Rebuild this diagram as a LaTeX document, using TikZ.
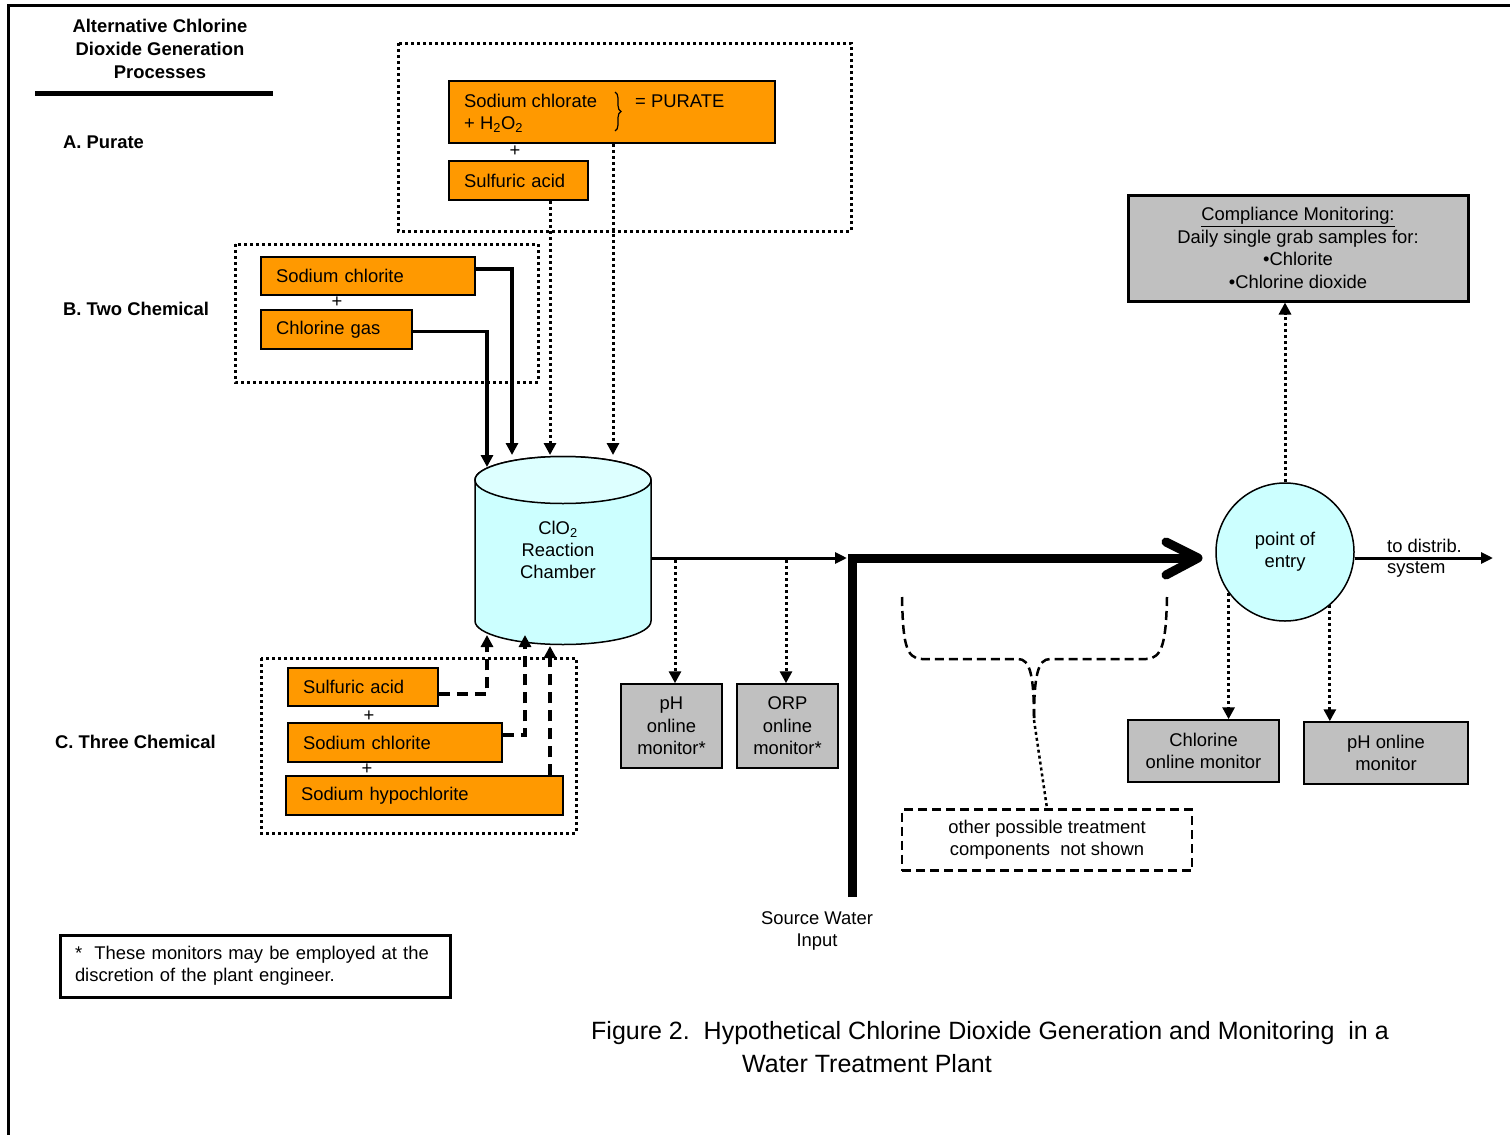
\documentclass[tikz,border=0pt]{standalone}
\usepackage{fontspec}
\setmainfont{Liberation Sans}
\usetikzlibrary{arrows.meta,decorations.pathreplacing,calc}
\definecolor{org}{RGB}{255,153,0}
\definecolor{gry}{RGB}{192,192,192}
\definecolor{cyn}{RGB}{204,255,255}
\definecolor{cyntop}{RGB}{221,255,255}
\begin{document}
\begin{tikzpicture}[x=1pt,y=1pt,
  base/.style={font=\fontsize{18.4}{22.4}\selectfont},
  bold/.style={font=\fontsize{18.4}{23}\selectfont\bfseries},
  obox/.style 2 args={base, draw, line width=1.5pt, fill=org, inner xsep=15pt, inner ysep=0pt,
     align=left, text width=#1, minimum height=#2},
  gbox/.style 2 args={base, draw, line width=1.5pt, fill=gry, inner sep=0pt, align=center,
     minimum width=#1, minimum height=#2},
  dotline/.style={line width=3pt, dash pattern=on 3pt off 3pt},
  tip/.style={-{Triangle[length=12pt,width=12pt]}},
  dotarrow/.style={dotline, tip},
  solarrow/.style={line width=3.5pt, tip},
  dasharrow/.style={line width=3.5pt, dash pattern=on 11pt off 7pt, tip},
  txt/.style={base, inner sep=0pt}
]
\useasboundingbox (0,0) rectangle (1510,-1135);
% frame
\draw[line width=3pt] (8,-1135) -- (8,-5) -- (1510,-5);

% title
\node[bold, align=center] (title) at (160,-49) {Alternative Chlorine\\Dioxide Generation\\Processes};
\draw[line width=5pt] (35,-93) -- (273,-93);
\node[bold, anchor=west, inner sep=0pt] (labA) at (63,-142) {A. Purate};
\node[bold, anchor=west, inner sep=0pt] (labB) at (63,-309) {B. Two Chemical};
\node[bold, anchor=west, inner sep=0pt] (labC) at (55,-742) {C. Three Chemical};

% A. Purate group
\draw[dotline] (398,-43) rectangle (851,-231);
\node[draw, line width=1.5pt, fill=org, minimum width=326pt, minimum height=62pt, inner sep=0pt] (purA) at (612,-112) {};
\node[txt, anchor=west] (sc) at (464,-101) {Sodium chlorate};
\node[txt, anchor=west] (h2o2) at (464,-125) {+ H\textsubscript{2}O\textsubscript{2}};
\draw[decorate, decoration={brace, amplitude=6pt}, line width=1.2pt] (615,-92) -- (615,-131);
\node[txt, anchor=west] (pur) at (635,-101) {= PURATE};
\node[txt] (pA) at (515,-151) {+};
\node[obox={109pt}{39pt}] (sulA) at (518.5,-180.5) {Sulfuric acid};

% B. Two chemical group
\draw[dotline] (235,-244) rectangle (538,-382);
\node[obox={184pt}{38pt}] (chlB) at (368,-276) {Sodium chlorite};
\node[txt] (pB) at (337,-302) {+};
\node[obox={121pt}{39pt}] (gasB) at (336.5,-329.5) {Chlorine gas};

% C. Three chemical group
\draw[dotline] (261,-658) rectangle (576,-833);
\node[obox={120pt}{38pt}] (sulC) at (363,-687) {Sulfuric acid};
\node[txt] (pC1) at (369,-716) {+};
\node[obox={184pt}{39pt}] (chlC) at (395,-742.5) {Sodium chlorite};
\node[txt] (pC2) at (367,-769) {+};
\node[obox={247pt}{39pt}] (hypC) at (424.5,-795.5) {Sodium hypochlorite};

% cylinder
\node[minimum width=176pt, minimum height=188pt, inner sep=0pt] (cyl) at (563,-551) {};
\path[fill=cyn, draw, line width=1.5pt] (475,-480) -- (475,-621)
   arc[start angle=180, end angle=360, x radius=88, y radius=23.5] -- (651,-480)
   arc[start angle=0, end angle=180, x radius=88, y radius=23.5] -- cycle;
\draw[fill=cyntop, line width=1.5pt] (563,-480) ellipse[x radius=88, y radius=23.5];
\node[base, align=center] (cyltxt) at (558,-550) {ClO\textsubscript{2}\\Reaction\\Chamber};

% inlet coordinates
\coordinate (t1) at (487,-467);
\coordinate (t2) at (512,-455);
\coordinate (t3) at (550,-455);
\coordinate (t4) at (613,-455);
\coordinate (b1) at (487,-635);
\coordinate (b2) at (525,-635);
\coordinate (b3) at (550,-646);

\draw[dotarrow] ([xshift=31.5pt]sulA.south) -- (t3);
\draw[dotarrow] ([xshift=1pt]purA.south) -- (t4);
\draw[solarrow] ([yshift=7pt]chlB.east) -| (t2);
\draw[solarrow] ([yshift=-2pt]gasB.east) -| (t1);
\draw[dasharrow] ([yshift=-7pt]sulC.east) -| (b1);
\draw[dasharrow] ([yshift=7.5pt]chlC.east) -| (b2);
\draw[dasharrow] ([xshift=125.5pt]hypC.north) -- (b3);

% monitors near chamber
\node[gbox={101pt}{84pt}] (phm) at (671.5,-726) {pH\\online\\monitor*};
\node[gbox={101pt}{84pt}] (orp) at (787.5,-726) {ORP\\online\\monitor*};

% main flow
\coordinate (junc) at (847,-558);
\draw[line width=3pt, -{Triangle[length=12pt,width=11pt]}] ([yshift=-7pt]cyl.east) -- (junc);
\coordinate (tap1) at (675,-560);
\coordinate (tap2) at (786,-560);
\draw[dotarrow] (tap1) -- (tap1 |- phm.north);
\draw[dotarrow] (tap2) -- (tap2 |- orp.north);

% point of entry
\node[base, circle, draw, line width=1.5pt, fill=cyn, minimum size=138pt, inner sep=0pt, align=center] (poe) at (1285,-552) {point of\\entry};

% source water thick line
\coordinate (swin) at (852,-897);
\coordinate (chev) at (1198,-558);
\draw[line width=9pt] (swin) |- (chev);
\draw[line width=9pt, line cap=round, line join=round] (1166,-542) -- (chev) -- (1166,-575);
\node[base, align=center] (srcw) at (817,-931) {Source Water\\Input};

% outlet
\coordinate (distr) at (1493,-558);
\draw[line width=3pt, -{Triangle[length=12pt,width=11pt]}] ([yshift=-6pt]poe.east) -- (distr);
\node[txt, anchor=west] (td) at (1387,-546) {to distrib.};
\node[txt, anchor=west] (sy) at (1387,-569) {system};

% compliance
\node[gbox={340pt}{106pt}, line width=3pt] (cm) at (1298,-248)
  {\underline{Compliance Monitoring:}\\Daily single grab samples for:\\•Chlorite\\•Chlorine dioxide};
\draw[dotarrow] (poe.north) -- (poe.north |- cm.south);

% POE monitors
\node[gbox={151pt}{62pt}] (clm) at (1203.5,-751) {Chlorine\\online monitor};
\node[gbox={164pt}{62pt}] (phr) at (1386,-753) {pH online\\monitor};
\draw[dotarrow] (poe.216) -- (poe.216 |- clm.north);
\draw[dotarrow] (poe.310.7) -- (poe.310.7 |- phr.north);

% other components brace
\coordinate (bt) at (1034,-720);
\draw[line width=2.5pt, dash pattern=on 9pt off 5pt]
  (902,-597) .. controls (903,-640) and (905,-659) .. (922,-659) -- (1018,-659)
  .. controls (1030,-659) and (1034,-675) .. (bt);
\draw[line width=2.5pt, dash pattern=on 9pt off 5pt]
  (1167,-597) .. controls (1166,-640) and (1163,-659) .. (1146,-659) -- (1050,-659)
  .. controls (1038,-659) and (1034,-675) .. (bt);
\node[base, draw, line width=2.5pt, dash pattern=on 9pt off 5pt, minimum width=290pt, minimum height=61pt, inner sep=0pt, align=center] (oth) at (1047,-840) {other possible treatment\\components~~not shown};
\draw[line width=2.5pt, dash pattern=on 3pt off 3pt] (bt) -- (oth.north);

% footnote
\node[base, draw, line width=3pt, minimum height=62pt, text width=360pt, inner xsep=15pt, inner ysep=0pt, align=left] (fn) at (255,-966)
  {*~~These monitors may be employed at the\\discretion of the plant engineer.};

% caption
\node[anchor=west, inner sep=0pt, font=\fontsize{25}{30}\selectfont] (cap1) at (591,-1033)
  {Figure 2.~~Hypothetical Chlorine Dioxide Generation and Monitoring~~in a};
\node[inner sep=0pt, font=\fontsize{25}{30}\selectfont] (cap2) at (867,-1064) {Water Treatment Plant};
\end{tikzpicture}
\end{document}
